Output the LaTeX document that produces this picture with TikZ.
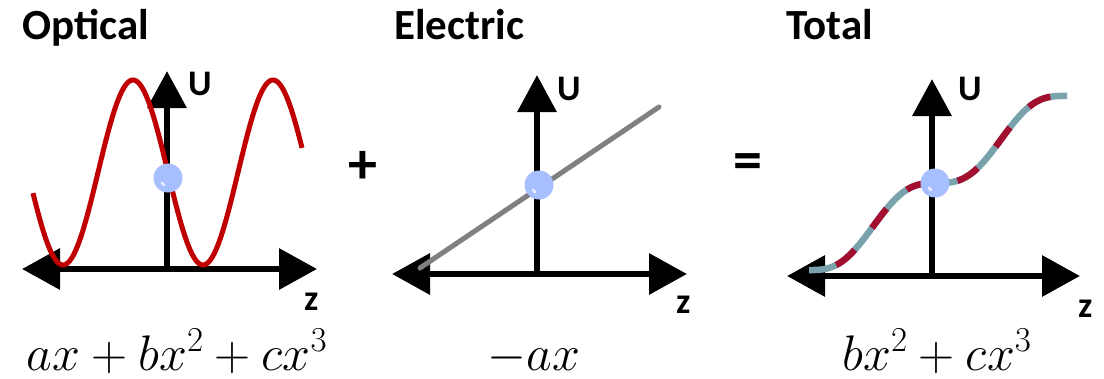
\RequirePackage{fix-cm}
\documentclass[tikz,border=0pt]{standalone}
\usepackage[no-math]{fontspec}
\setmainfont{Carlito}
\usetikzlibrary{arrows.meta}
\definecolor{optred}{HTML}{C00000}
\definecolor{totred}{HTML}{A3102F}
\definecolor{totteal}{HTML}{7AA2AC}
\definecolor{ballblue}{HTML}{A7BEFF}
\definecolor{linegray}{HTML}{808080}
\tikzset{
  axis/.style={line width=6.5pt,
    {Triangle[length=38pt,width=40pt]}-{Triangle[length=38pt,width=40pt]}},
  uaxis/.style={line width=6.5pt,-{Triangle[length=37pt,width=38pt]}},
  title/.style={font=\fontsize{43}{50}\selectfont\bfseries,anchor=base west,inner sep=0pt},
  axlabel/.style={font=\fontsize{36}{42}\selectfont\bfseries,anchor=base west,inner sep=0pt},
  formula/.style={font=\fontsize{50}{58}\selectfont,anchor=base,inner sep=0pt},
  opsign/.style={font=\fontsize{58}{64}\selectfont\bfseries,inner sep=0pt},
  ball/.style={circle,fill=ballblue,minimum size=29pt,inner sep=0pt}
}
\begin{document}
\begin{tikzpicture}[x=1pt,y=-1pt]
\useasboundingbox (0,0) rectangle (1104,378);
% ---------- Optical ----------
\node[title] (t1) at (22,39) {Optical};
\coordinate (h1l) at (22,269);
\coordinate (h1r) at (317,269);
\coordinate (v1b) at (167,269);
\coordinate (v1t) at (167,71);
\draw[axis] (h1l) -- (h1r);
\draw[uaxis] (v1b) -- (v1t);
\draw[optred,line width=5pt,domain=33:302,samples=200,smooth]
  plot (\x,{172.5-92.5*sin((\x-98)/140*360)});
\node[ball] (b1) at (168,178) {};
\fill[white,opacity=0.75,rotate around={-50:(163,184)}] (163,184) ellipse (2.8pt and 1.5pt);
\node[axlabel] (u1) at (188,95) {U};
\node[axlabel] (z1) at (304,310) {z};
\node[formula] (f1) at (177,370) {$ax+bx^2+cx^3$};
% ---------- plus ----------
\node[opsign] (plus) at (363,167) {+};
% ---------- Electric ----------
\node[title] (t2) at (394,39) {Electric};
\coordinate (h2l) at (392,274);
\coordinate (h2r) at (687,274);
\coordinate (v2b) at (537,274);
\coordinate (v2t) at (537,75);
\draw[axis] (h2l) -- (h2r);
\draw[uaxis] (v2b) -- (v2t);
\coordinate (g1) at (420,268);
\coordinate (g2) at (659,107);
\draw[linegray,line width=5pt,line cap=round] (g1) -- (g2);
\node[ball] (b2) at (539,185) {};
\fill[white,opacity=0.75,rotate around={-50:(534,191)}] (534,191) ellipse (2.8pt and 1.5pt);
\node[axlabel] (u2) at (557,100) {U};
\node[axlabel] (z2) at (676,313) {z};
\node[formula] (f2) at (534,370) {$-ax$};
% ---------- equals ----------
\node[opsign] (eq) at (748,167) {=};
% ---------- Total ----------
\node[title] (t3) at (786,39) {Total};
\coordinate (h3l) at (787,276);
\coordinate (h3r) at (1080,276);
\coordinate (v3b) at (932,276);
\coordinate (v3t) at (932,79);
\draw[axis] (h3l) -- (h3r);
\draw[uaxis] (v3b) -- (v3t);
\draw[totteal,line width=6.5pt,domain=-128:130,samples=200,smooth]
  plot ({937+\x},{183-0.68*\x+13.85*sin(\x/128*360)});
\draw[totred,line width=6.5pt,domain=-128:130,samples=200,smooth,
  dash pattern=on 24pt off 28pt,dash phase=24pt]
  plot ({937+\x},{183-0.68*\x+13.85*sin(\x/128*360)});
\node[ball] (b3) at (935,183) {};
\fill[white,opacity=0.75,rotate around={-50:(930,189)}] (930,189) ellipse (2.8pt and 1.5pt);
\node[axlabel] (u3) at (958,100) {U};
\node[axlabel] (z3) at (1078,317) {z};
\node[formula] (f3) at (937,370) {$bx^2+cx^3$};
\end{tikzpicture}
\end{document}
